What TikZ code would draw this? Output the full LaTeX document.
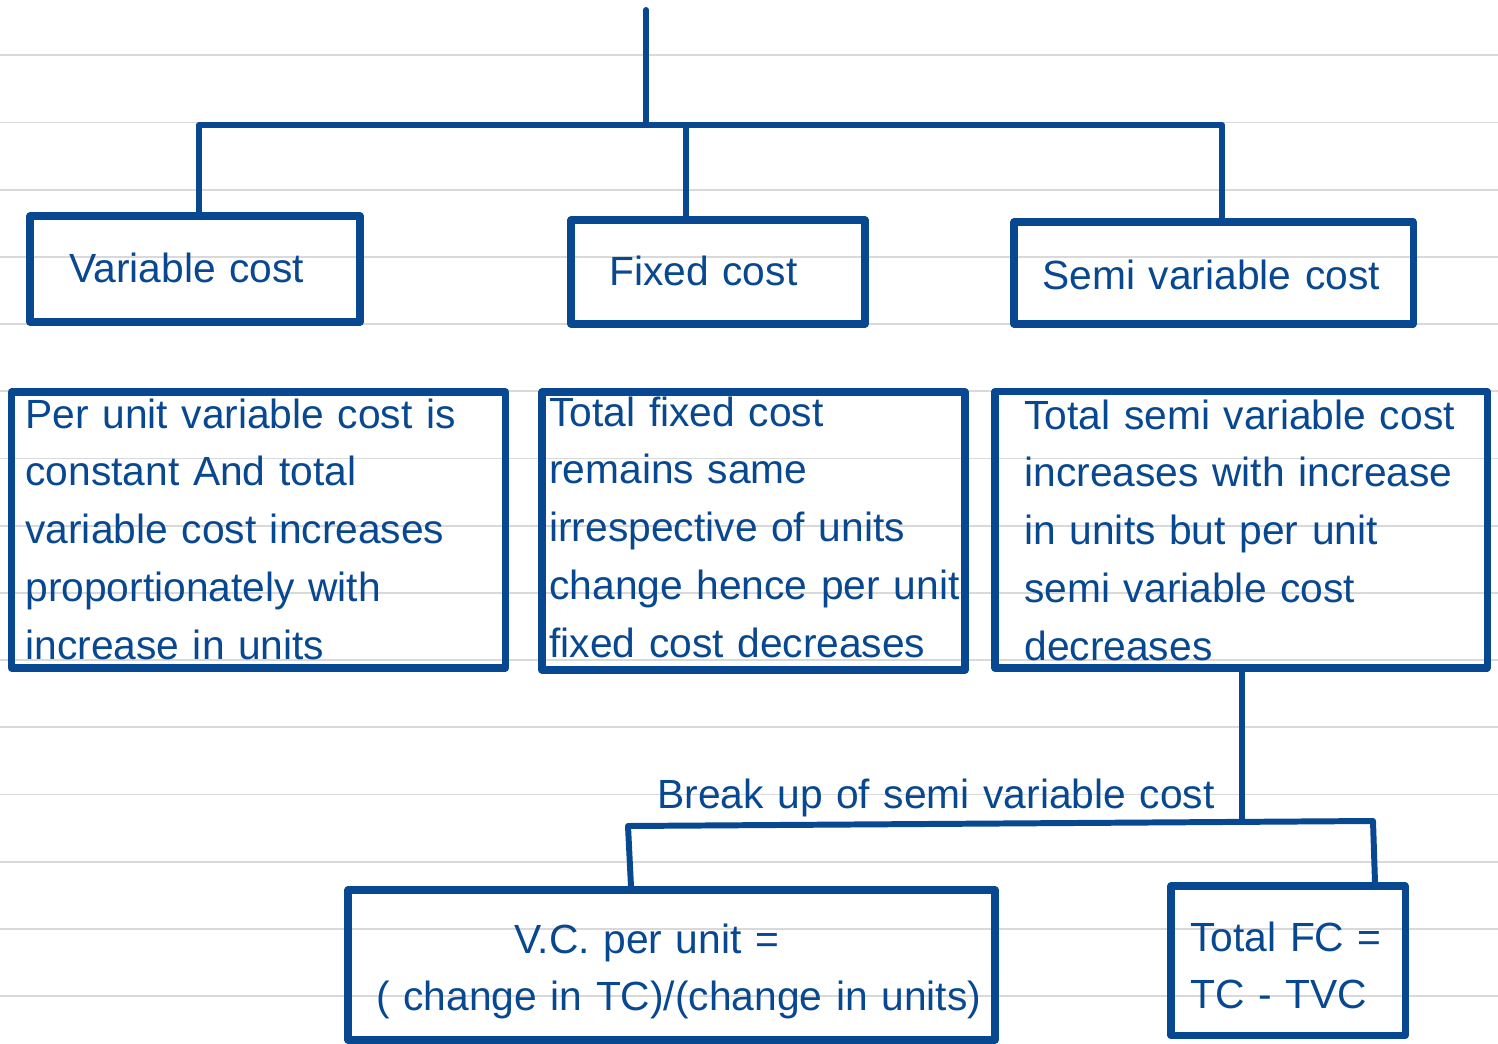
\documentclass[tikz,border=0pt]{standalone}
\usepackage{fontspec}
\setmainfont{Liberation Sans}
\usetikzlibrary{calc,fit}
\definecolor{inkblue}{RGB}{8,72,145}
\definecolor{ruleline}{RGB}{217,217,217}
\tikzset{
  box/.style={draw=inkblue, line width=4pt, line join=round, inner sep=0pt},
  link/.style={draw=inkblue, line width=3.4pt, line cap=round, line join=round},
  txt/.style={text=inkblue, anchor=base west, inner sep=0pt, align=left, text width=14cm,
    font=\fontsize{23.2pt}{32.9pt}\selectfont},
}

\begin{document}
\begin{tikzpicture}[x=0.02cm,y=-0.02cm]
\useasboundingbox (0,0) rectangle (1498,1044);
\fill[white] (0,0) rectangle (1498,1044);

\foreach \k in {0,...,14}
  \draw[ruleline, line width=1.1pt] (0,{55.3+67.2*\k}) -- (1498,{55.3+67.2*\k});

% heads
\node[box, fit={(30,216) (360,322)}] (vcbox) {};
\node[box, fit={(571,220) (865,324)}] (fcbox) {};
\node[box, fit={(1014,222) (1413,324)}] (svbox) {};
\node[txt] (vclabel) at (69,283) {Variable cost};
\node[txt] (fclabel) at (609,286) {Fixed cost};
\node[txt] (svlabel) at (1042,290) {Semi variable cost};

% notes
\node[box, fit={(11.5,392) (505.5,668)}] (vcnote) {};
\node[box, fit={(542,392) (965,670)}] (fcnote) {};
\node[box, fit={(995,391.5) (1487,668)}] (svnote) {};
\node[txt] (vctext) at (25,428) {Per unit variable cost is\\constant And total\\variable cost increases\\proportionately with\\increase in units};
\node[txt] (fctext) at (549,426) {Total fixed cost\\remains same\\irrespective of units\\change hence per unit\\fixed cost decreases};
\node[txt] (svtext) at (1024,429) {Total semi variable cost\\increases with increase\\in units but per unit\\semi variable cost\\decreases};

% break up
\node[box, fit={(348,890) (995,1040)}] (vcunit) {};
\node[box, fit={(1171,886) (1405,1035.5)}] (fctotal) {};
\node[txt] (vcformula) at (376,953) {\hspace*{2.76cm}V.C. per unit =\\( change in TC)/(change in units)};
\node[txt] (fcformula) at (1190,951) {Total FC =\\TC - TVC};
\node[txt] (breaklabel) at (657,808) {Break up of semi variable cost};

\coordinate (top) at (646,10);
\coordinate (bar) at (646,125);
\coordinate (vcdrop) at (199,125);
\coordinate (fcdrop) at (686,125);
\coordinate (svdrop) at (1222,125);
\draw[link] (top) -- (bar);
\draw[link] (vcbox.north -| vcdrop) -- (vcdrop) -- (svdrop) -- (svbox.north -| svdrop);
\draw[link] (fcdrop) -- (fcbox.north -| fcdrop);

\coordinate (stem) at (1242,822);
\coordinate (splitl) at (628,826);
\coordinate (splitr) at (1373,821);
\coordinate (footl) at (631,890);
\coordinate (footr) at (1375,886);
\draw[link] (svnote.south -| stem) -- (stem);
\draw[link] (vcunit.north -| footl) -- (splitl) -- (splitr) -- (fctotal.north -| footr);

\end{tikzpicture}
\end{document}
